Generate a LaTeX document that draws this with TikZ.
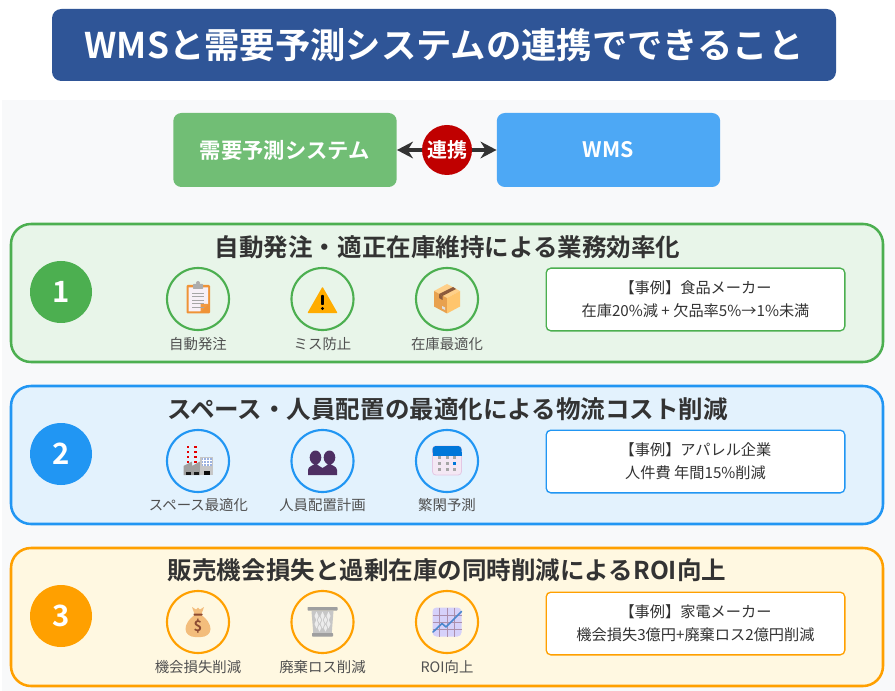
\documentclass[tikz,border=0pt]{standalone}
\usepackage{fontspec}
\setmainfont{Noto Sans CJK JP}[BoldFont={Noto Sans CJK JP Bold}]
\usetikzlibrary{arrows.meta}
\definecolor{panelbg}{HTML}{F8F9FA}
\definecolor{titleblue}{HTML}{2F5597}
\definecolor{greenc}{HTML}{4CAF50}
\definecolor{bluec}{HTML}{2196F3}
\definecolor{orangec}{HTML}{FFA000}
\definecolor{greenbg}{HTML}{E8F5E9}
\definecolor{bluebg}{HTML}{E3F2FD}
\definecolor{orangebg}{HTML}{FFF8E1}
\definecolor{topgreen}{HTML}{71BE75}
\definecolor{topblue}{HTML}{4DA8F5}
\definecolor{linkred}{HTML}{C00000}
\definecolor{ink}{HTML}{333333}
\definecolor{sub}{HTML}{505050}
\tikzset{
  x=0.75pt,y=-0.75pt,
  band/.style={draw=#1,line width=1.9pt,rounded corners=15pt},
  numdisc/.style={circle,fill=#1,minimum size=46.5pt,inner sep=0pt,text=white,font=\bfseries\fontsize{22}{22}\selectfont},
  icondisc/.style={circle,draw=#1,line width=1.6pt,minimum size=46.5pt,inner sep=0pt},
  heading/.style={font=\bfseries\fontsize{18.4}{20}\selectfont,text=ink,inner sep=0pt},
  caption/.style={font=\fontsize{10.8}{12}\selectfont,text=sub,inner sep=0pt},
  casebox/.style={draw=#1,line width=1pt,fill=white,rounded corners=3.5pt,minimum width=224pt,minimum height=47pt,inner sep=0pt,align=center,font=\fontsize{11.4}{17}\selectfont,text=ink},
  topbox/.style={fill=#1,rounded corners=6pt,minimum width=167.5pt,minimum height=55.5pt,inner sep=0pt,text=white,font=\bfseries\fontsize{16}{18}\selectfont},
}
\begin{document}
\begin{tikzpicture}
\useasboundingbox (0,0) rectangle (895,691);
\fill[white] (0,0) rectangle (895,691);
\fill[panelbg] (2,100) rectangle (895,691);
\node[fill=titleblue,rounded corners=7pt,minimum width=588pt,minimum height=54pt,inner sep=0pt,text=white,font=\bfseries\fontsize{26.5}{28}\selectfont] (title) at (444,45) {WMSと需要予測システムの連携でできること};
% top row
\node[topbox=topgreen] (demand) at (285,150) {需要予測システム};
\node[topbox=topblue] (wms) at (608.5,150) {WMS};
\draw[{Stealth[length=12pt,width=12.5pt]}-{Stealth[length=12pt,width=12.5pt]},draw=ink,line width=2.6pt] (demand) -- (wms);
\node[circle,fill=linkred,minimum size=37.5pt,inner sep=0pt,text=white,font=\bfseries\fontsize{15}{15}\selectfont] (link) at (447,150) {連携};
% bands
\draw[band=greenc,fill=greenbg] (11,224) rectangle (883,362);
\draw[band=bluec,fill=bluebg] (11,386) rectangle (883,524);
\draw[band=orangec,fill=orangebg] (11,548) rectangle (883,686);
\node[heading] (h1) at (447.5,247) {自動発注・適正在庫維持による業務効率化};
\node[heading] (h2) at (447.5,409) {スペース・人員配置の最適化による物流コスト削減};
\node[heading] (h3) at (447,570) {販売機会損失と過剰在庫の同時削減によるROI向上};
\node[numdisc=greenc] (n1) at (61,292) {1};
\node[numdisc=bluec] (n2) at (61,454) {2};
\node[numdisc=orangec] (n3) at (61,616) {3};
% icon rings
\foreach \nm/\xx in {a/198,b/322.5,c/447}{
  \node[icondisc=greenc] (r1\nm) at (\xx,299) {};
  \node[icondisc=bluec] (r2\nm) at (\xx,461) {};
  \node[icondisc=orangec] (r3\nm) at (\xx,622) {};
}
% captions
\node[caption] (c1a) at (198,344) {自動発注};
\node[caption] (c1b) at (322.5,344) {ミス防止};
\node[caption] (c1c) at (447,344) {在庫最適化};
\node[caption] (c2a) at (198.5,505.5) {スペース最適化};
\node[caption] (c2b) at (322.5,505.5) {人員配置計画};
\node[caption] (c2c) at (447,505.5) {繁閑予測};
\node[caption] (c3a) at (198,667) {機会損失削減};
\node[caption] (c3b) at (322.5,667) {廃棄ロス削減};
\node[caption] (c3c) at (447,667) {ROI向上};
% case boxes
\node[casebox=greenc] (case1) at (695.5,299.5) {【事例】食品メーカー\\在庫20\%減 + 欠品率5\%→1\%未満};
\node[casebox=bluec] (case2) at (695.5,461.5) {【事例】アパレル企業\\人件費 年間15\%削減};
\node[casebox=orangec] (case3) at (695.5,623.5) {【事例】家電メーカー\\機会損失3億円+廃棄ロス2億円削減};
% clipboard
\begin{scope}[shift={(198,299)}]
  \fill[rounded corners=0.8pt,fill=orange!70!brown!85] (-11.5,-14) rectangle (12,14.5);
  \fill[fill=violet!6] (-9.5,-11.5) -- (10,-11.5) -- (10,5) -- (2,12.5) -- (-9.5,12.5) -- cycle;
  \fill[fill=orange!75!brown!80] (10.5,5) -- (2.5,13) -- (2.5,5) -- cycle;
  \foreach \yy in {-6,-2.5,1,4.5,8}{\draw[gray!70,line width=.6pt] (-6,\yy) -- (6,\yy);}
  \fill[gray!65,rounded corners=.5pt] (-5,-15) rectangle (5,-10);
  \fill[gray!65] (0,-16) circle (2);
\end{scope}
% warning
\begin{scope}[shift={(322.5,299)}]
  \fill[fill=orange!65!yellow,draw=orange!65!yellow,line width=1pt,line join=round] (0,-11) -- (14,13.5) -- (-14,13.5) -- cycle;
  \fill[black,rounded corners=.5pt] (-1.4,-4) rectangle (1.4,6);
  \fill[black] (0,9.5) circle (1.6);
\end{scope}
% parcel
\begin{scope}[shift={(447,299)}]
  \definecolor{boxa}{HTML}{E8A14F}\definecolor{boxb}{HTML}{FFC56D}\definecolor{boxc}{HTML}{FFD08A}\definecolor{tape}{HTML}{8C5A3C}
  \fill[boxc,line join=round] (0,-15) -- (13,-8) -- (0,-1) -- (-13,-8) -- cycle;
  \fill[boxa] (-13,-8) -- (0,-1) -- (0,14.5) -- (-13,7.5) -- cycle;
  \fill[boxb] (13,-8) -- (0,-1) -- (0,14.5) -- (13,7.5) -- cycle;
  \fill[tape] (6,-12) -- (9,-10) -- (-4.5,-3) -- (-8,-5) -- cycle;
  \fill[tape] (-8,-5) -- (-4.5,-3) -- (-4.5,1) -- (-8,-1) -- cycle;
  \fill[white!75!gray] (-5,7) -- (-2,8.5) -- (-2,11) -- (-5,9.5) -- cycle;
\end{scope}
% factory
\begin{scope}[shift={(198,461)}]
  \foreach \xx in {-10,-2.5}{\foreach \yy in {-14,-9,-4,1}{\fill[red!90!black] (\xx-1.2,\yy-1.2) rectangle (\xx+1.2,\yy+1.2);}}
  \fill[gray!75] (-14.5,14) -- (-14.5,5) -- (-6,0.5) -- (-6,5) -- (2,0.5) -- (2,14) -- cycle;
  \fill[gray!45] (2,-4.5) rectangle (15,14);
  \fill[cyan!45!blue!40] (3.5,-3.5) rectangle (14,5);
  \foreach \xx in {5.5,8.5,11.5}{\draw[white,line width=.35pt] (\xx,-3.5) -- (\xx,5);}
  \foreach \yy in {-1,2}{\draw[white,line width=.35pt] (3.5,\yy) -- (14,\yy);}
  \fill[gray!20!black] (-12.5,11) rectangle (-7.5,14);
  \fill[gray!20!black] (-4.5,11) rectangle (0.5,14);
  \fill[gray!10!black] (5.5,9.5) rectangle (12,14);
\end{scope}
% people
\begin{scope}[shift={(322.5,461)}]
  \definecolor{ppl}{HTML}{4E2F63}
  \fill[ppl] (-7,-3.5) ellipse (5.8 and 7);
  \fill[ppl] (7,-3.5) ellipse (5.8 and 7);
  \fill[ppl] (-14.5,14) -- (-14.5,9) .. controls (-14.5,5) and (-9,5) .. (-7,2) .. controls (-5,5) and (-2,5) .. (0,7) .. controls (2,5) and (5,5) .. (7,2) .. controls (9,5) and (14.5,5) .. (14.5,9) -- (14.5,14) -- cycle;
\end{scope}
% calendar
\begin{scope}[shift={(447,461)}]
  \fill[violet!9,draw=violet!22,line width=.6pt,rounded corners=2.5pt] (-14.5,-15) rectangle (14.5,14);
  \fill[blue!45!cyan!85!black,rounded corners=2.5pt] (-14.5,-15) rectangle (14.5,-6);
  \fill[blue!45!cyan!85!black] (-14.5,-9) rectangle (14.5,-5);
  \foreach \xx in {-7.3,0,7.3}{\foreach \yy in {-3.5,2.5,8}{\fill[gray!70] (\xx-1.5,\yy-1.5) rectangle (\xx+1.5,\yy+1.5);}}
  \fill[blue!45!cyan!85!black] (5.8,1) rectangle (8.8,4);
\end{scope}
% money bag
\begin{scope}[shift={(198,622)}]
  \definecolor{bag}{HTML}{F3BD7C}\definecolor{tie}{HTML}{8C4A32}
  \fill[bag] (-6,-15) -- (-2,-12.5) -- (0,-14.5) -- (2,-12.5) -- (6,-15) -- (3.5,-8) -- (-3.5,-8) -- cycle;
  \fill[bag] (-3.5,-7) .. controls (-9,-3) and (-12.5,2) .. (-12.5,7) .. controls (-12.5,12) and (-8,15) .. (-3,15) -- (3,15) .. controls (8,15) and (12.5,12) .. (12.5,7) .. controls (12.5,2) and (9,-3) .. (3.5,-7) -- cycle;
  \fill[tie,rounded corners=.5pt] (-4.5,-8.5) rectangle (4.5,-6.5);
  \node[inner sep=0pt,text=tie,font=\bfseries\fontsize{11}{11}\selectfont] (dollar) at (0,4) {\$};
\end{scope}
% waste basket
\begin{scope}[shift={(322.5,622)}]
  \fill[gray!45] (-11,-11) -- (11,-11) -- (9,14) -- (-9,14) -- cycle;
  \foreach \yy in {-6,2}{\foreach \xx in {-6,0,6}{
    \fill[white!85!gray] (\xx,\yy-4.5) -- (\xx+2,\yy) -- (\xx,\yy+4.5) -- (\xx-2,\yy) -- cycle;}}
  \foreach \xx in {-3,3}{\foreach \yy in {-2,6}{
    \fill[white!85!gray] (\xx,\yy-3.5) -- (\xx+1.8,\yy) -- (\xx,\yy+3.5) -- (\xx-1.8,\yy) -- cycle;}}
  \fill[gray!75,rounded corners=.5pt] (-15,-15) rectangle (15,-11.5);
  \fill[gray!75,rounded corners=.5pt] (-10.5,11) rectangle (10.5,14.5);
\end{scope}
% chart
\begin{scope}[shift={(447,622)}]
  \fill[violet!22!blue!18,rounded corners=3pt] (-14.5,-14.5) rectangle (14.5,14.5);
  \foreach \xx in {-7.5,0,7.5}{\draw[violet!35!gray!65,line width=.7pt] (\xx,-14.5) -- (\xx,14.5);}
  \foreach \yy in {-7,0,7.5}{\draw[violet!35!gray!65,line width=.7pt] (-14.5,\yy) -- (14.5,\yy);}
  \draw[cyan!50!blue!75,line width=1.2pt,line join=round,line cap=round] (-14,10) -- (-5,1.5) -- (-1,5) -- (14.5,-10.5);
\end{scope}
\end{tikzpicture}
\end{document}
